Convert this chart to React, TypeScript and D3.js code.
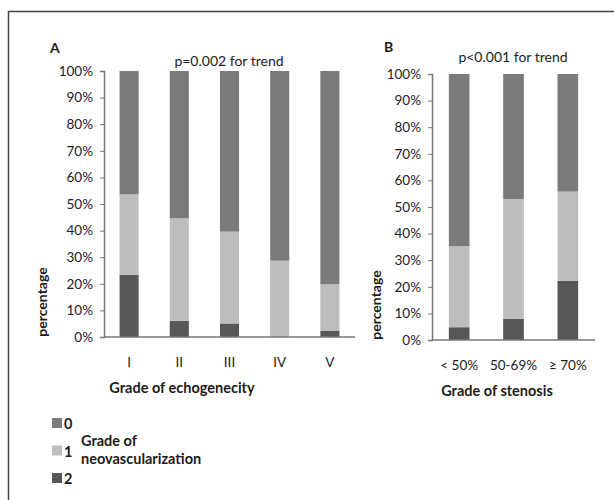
import React, { useEffect, useRef } from "react";
import * as d3 from "d3";

const gradesA = ["I", "II", "III", "IV", "V"];
const grade2A = [23.3, 6, 5.1, 0, 2.4];
const grade1A = [30.3, 38.6, 34.5, 28.7, 17.4];
const grade0A = [46.4, 55.4, 60.4, 71.3, 80.2];

const gradesB = ["< 50%", "50-69%", "\u2265 70%"];
const grade2B = [4.8, 8, 22.2];
const grade1B = [30.5, 45, 33.6];
const grade0B = [64.7, 47, 44.2];

const yTicks = [0, 10, 20, 30, 40, 50, 60, 70, 80, 90, 100];
const keys = ["g2", "g1", "g0"];
const legendItems = ["0", "1", "2"];

const colors: Record<string, string> = { g0: "#7b7b7b", g1: "#bdbdbd", g2: "#575757" };
const font = "Lato, 'Open Sans', sans-serif";
const ink = "#1c1c1c";

function drawPanel(svg: any, opts: any) {
  const rows = opts.cats.map((c: string, i: number) => ({
    cat: c,
    g2: opts.g2[i],
    g1: opts.g1[i],
    g0: opts.g0[i],
  }));
  const x = d3.scaleBand().domain(opts.cats).range([opts.x0, opts.x1]).paddingInner(0.62).paddingOuter(0.31);
  const y = d3.scaleLinear().domain([0, 100]).range([opts.yb, opts.yt]);
  const g = svg.append("g");
  const series = d3.stack().keys(keys)(rows as any);

  g.selectAll("g.layer")
    .data(series)
    .enter()
    .append("g")
    .attr("fill", (d: any) => colors[d.key])
    .selectAll("rect")
    .data((d: any) => d)
    .enter()
    .append("rect")
    .attr("x", (d: any) => x(d.data.cat))
    .attr("y", (d: any) => y(d[1]))
    .attr("width", x.bandwidth())
    .attr("height", (d: any) => y(d[0]) - y(d[1]));

  const ya = g.append("g")
    .attr("transform", `translate(${opts.x0},0)`)
    .call(d3.axisLeft(y).tickValues(yTicks).tickSize(4).tickFormat((d: any) => d + "%"));
  ya.select(".domain").attr("stroke", "#777").attr("stroke-width", 1.5);
  ya.selectAll(".tick line").attr("stroke", "#777");
  ya.selectAll("text").attr("font-family", font).attr("font-size", 13.5).attr("fill", ink).attr("x", -11);

  g.append("line")
    .attr("x1", opts.x0).attr("x2", opts.x1)
    .attr("y1", opts.yb).attr("y2", opts.yb)
    .attr("stroke", "#777").attr("stroke-width", 1.5);

  g.selectAll("text.xl")
    .data(opts.cats)
    .enter()
    .append("text")
    .attr("x", (d: any) => x(d) + x.bandwidth() / 2)
    .attr("y", opts.yb + 30)
    .attr("text-anchor", "middle")
    .attr("font-family", font)
    .attr("font-size", 13.5)
    .attr("fill", ink)
    .text((d: any) => d);

  g.append("text")
    .attr("x", opts.titleX).attr("y", opts.xtitleY)
    .attr("text-anchor", "middle").attr("font-family", font).attr("font-size", 14.5)
    .attr("font-weight", "bold").attr("fill", ink).text(opts.xtitle);

  g.append("text")
    .attr("transform", `translate(${opts.ylabX},${opts.yb - 35}) rotate(-90)`)
    .attr("text-anchor", "middle").attr("font-family", font).attr("font-size", 14)
    .attr("font-weight", "bold").attr("fill", ink).text("percentage");

  g.append("text")
    .attr("x", opts.letterX).attr("y", opts.letterY)
    .attr("font-family", font).attr("font-size", 14).attr("font-weight", "bold")
    .attr("fill", ink).text(opts.letter);

  g.append("text")
    .attr("x", opts.pX).attr("y", opts.pY)
    .attr("text-anchor", "middle").attr("font-family", font).attr("font-size", 14)
    .attr("fill", ink).text(opts.p);
}

export default function App() {
  const ref = useRef<SVGSVGElement>(null);

  useEffect(() => {
    const svg = d3.select(ref.current);
    svg.selectAll("*").remove();

    svg.append("rect").attr("width", 614).attr("height", 500).attr("fill", "#fff");
    svg.append("path").attr("d", "M8.5,500 L8.5,11.5 L614,11.5").attr("fill", "none").attr("stroke", "#444").attr("stroke-width", 1.5);

    drawPanel(svg, {
      cats: gradesA, g2: grade2A, g1: grade1A, g0: grade0A,
      x0: 104, x1: 355, yt: 71, yb: 337,
      titleX: 182, xtitleY: 393, xtitle: "Grade of echogenecity",
      ylabX: 47, letter: "A", letterX: 50, letterY: 53,
      p: "p=0.002 for trend", pX: 229, pY: 66,
    });

    drawPanel(svg, {
      cats: gradesB, g2: grade2B, g1: grade1B, g0: grade0B,
      x0: 432, x1: 595, yt: 74, yb: 340,
      titleX: 497, xtitleY: 396, xtitle: "Grade of stenosis",
      ylabX: 381, letter: "B", letterX: 384, letterY: 52,
      p: "p<0.001 for trend", pX: 513, pY: 62,
    });

    // legend
    const lg = svg.append("g");
    const ly = d3.scalePoint().domain(legendItems).range([423, 478]);
    const lkey: Record<string, string> = { "0": "g0", "1": "g1", "2": "g2" };
    lg.selectAll("rect")
      .data(legendItems)
      .enter()
      .append("rect")
      .attr("x", 52).attr("y", (d: any) => ly(d)! - 5)
      .attr("width", 10).attr("height", 10)
      .attr("fill", (d: any) => colors[lkey[d]]);
    lg.selectAll("text")
      .data(legendItems)
      .enter()
      .append("text")
      .attr("x", 64).attr("y", (d: any) => ly(d)! + 6)
      .attr("font-family", font).attr("font-size", 14.5).attr("font-weight", "bold")
      .attr("fill", ink).text((d: any) => d);
    lg.append("text").attr("x", 81).attr("y", 446).attr("font-family", font).attr("font-size", 14.5)
      .attr("font-weight", "bold").attr("fill", ink).text("Grade of");
    lg.append("text").attr("x", 81).attr("y", 464).attr("font-family", font).attr("font-size", 14.5)
      .attr("font-weight", "bold").attr("fill", ink).text("neovascularization");
  }, []);

  return (
    <svg ref={ref} width={614} height={500} style={{ position: "absolute", left: 0, top: 0 }} />
  );
}
